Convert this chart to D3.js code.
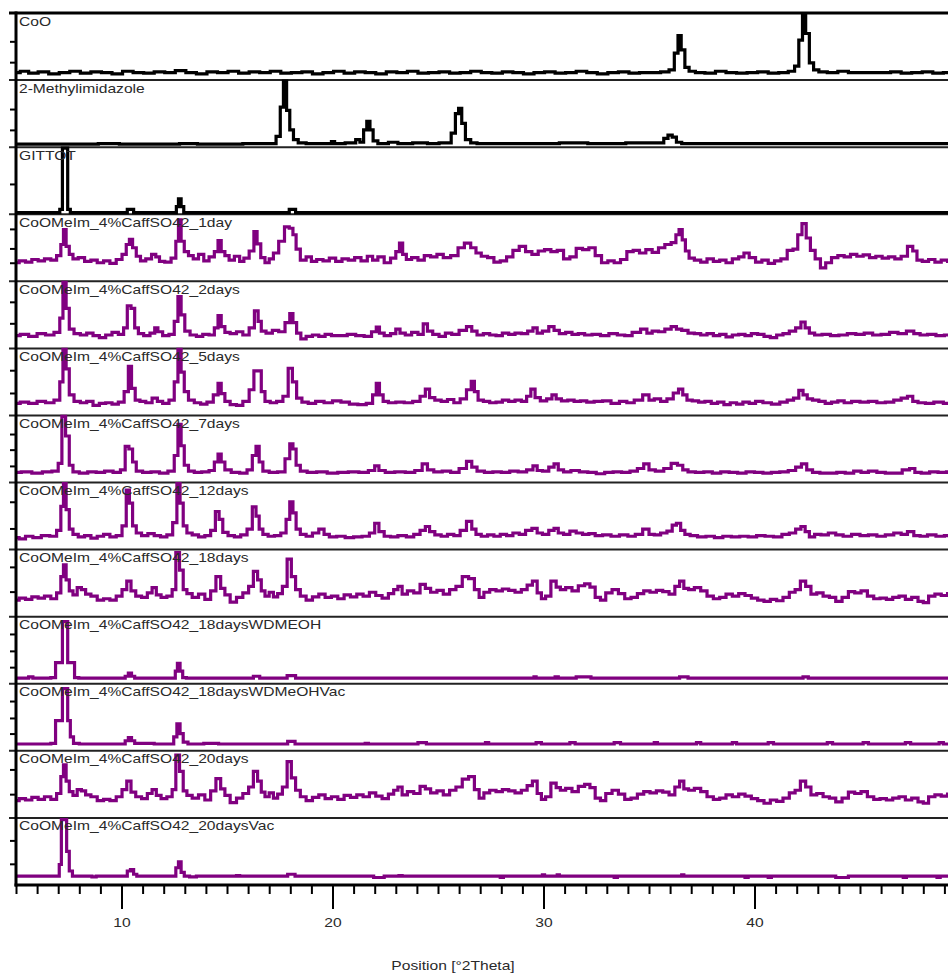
<!DOCTYPE html>
<html>
<head>
<meta charset="utf-8">
<script src="https://cdn.jsdelivr.net/npm/d3@7.9.0/dist/d3.min.js"></script>
<style>
  body { margin: 0; background: #fff; }
  svg { display: block; font-family: "Liberation Sans", Arial, sans-serif; }
</style>
</head>
<body>
<svg id="chart"></svg>
<script>
// Intensities are in % of each panel's height, positions in degrees 2-theta
const patternNames = [
  "CoO", "2-Methylimidazole", "GITTOT",
  "CoOMeIm_4%CaffSO42_1day", "CoOMeIm_4%CaffSO42_2days", "CoOMeIm_4%CaffSO42_5days",
  "CoOMeIm_4%CaffSO42_7days", "CoOMeIm_4%CaffSO42_12days", "CoOMeIm_4%CaffSO42_18days",
  "CoOMeIm_4%CaffSO42_18daysWDMEOH", "CoOMeIm_4%CaffSO42_18daysWDMeOHVac",
  "CoOMeIm_4%CaffSO42_20days", "CoOMeIm_4%CaffSO42_20daysVac"
];
const xTicksMajor = [10, 20, 30, 40];
const xTicksMinor = d3.range(5, 51);
const leftTicks = [
  [26, 58], [25, 57], [45], [27, 49, 79], [37, 70], [33, 68], [24, 49, 73],
  [31, 72], [37, 75], [24, 49, 75], [25, 49, 75], [35, 73], [31, 67]
];

const coo = [[5,10],[5.4,12],[5.8,9],[6.3,11],[6.8,8],[7.3,10],[7.8,12],[8.3,9],[8.8,11],[9.3,10],[9.8,8],[10.3,12],[10.8,10],[11.3,9],[11.8,11],[12.3,10],[12.8,13],[13.3,10],[13.8,8],[14.3,11],[14.8,10],[15.3,12],[15.8,9],[16.3,11],[16.8,10],[17.3,12],[17.8,9],[18.3,10],[18.8,11],[19.3,8],[19.8,10],[20.3,12],[20.8,9],[21.3,11],[21.8,10],[22.3,8],[22.8,11],[23.3,10],[23.8,12],[24.3,9],[24.8,10],[25.3,11],[25.8,9],[26.3,10],[26.8,12],[27.3,10],[27.8,9],[28.3,11],[28.8,10],[29.3,8],[29.8,10],[30.3,11],[30.8,9],[31.3,10],[31.8,12],[32.3,10],[32.8,8],[33.3,10],[33.8,11],[34.3,9],[34.8,10],[35.3,10],[35.8,11],[36.1,14],[36.3,40],[36.45,67],[36.6,45],[36.8,18],[37.0,12],[37.4,10],[37.9,9],[38.4,12],[38.9,10],[39.4,9],[39.9,10],[40.4,11],[40.9,9],[41.4,10],[41.8,12],[42.0,20],[42.2,60],[42.35,100],[42.5,70],[42.7,25],[42.9,14],[43.2,11],[43.7,10],[44.2,12],[44.7,10],[45.2,10],[45.7,10],[46.2,10],[46.7,11],[47.2,9],[47.7,10],[48.2,11],[48.7,9],[49.2,10],[50,10]];

const methylImidazole = [[5,3],[8,3],[9.8,4],[10,3],[12,3],[13.5,4],[13.7,3],[15.5,3],[16,4],[17.2,4],[17.45,15],[17.6,60],[17.75,100],[17.9,55],[18.05,25],[18.25,10],[18.5,5],[19,4],[19.9,4],[20.0,7],[20.2,4],[21.0,5],[21.2,10],[21.4,6],[21.55,25],[21.7,38],[21.85,25],[22.0,8],[22.3,4],[23.0,6],[23.2,4],[24.4,5],[24.6,4],[25.5,5],[25.75,20],[25.9,50],[26.05,58],[26.2,35],[26.4,10],[26.7,5],[27,4],[29.5,4],[32,5],[32.2,4],[35.6,5],[35.8,12],[36.0,17],[36.2,14],[36.4,6],[36.7,4],[50,4]];

const gittot = [[5,1],[7.0,1],[7.15,6],[7.25,100],[7.4,100],[7.5,6],[7.65,1],[10.2,1],[10.35,6],[10.5,6],[10.65,1],[12.55,1],[12.65,10],[12.75,22],[12.9,10],[13.0,1],[17.9,1],[18.0,6],[18.2,6],[18.3,1],[50,1]];

const day1 = [[5,27],[5.3,30],[5.6,28],[5.9,32],[6.2,30],[6.5,33],[6.8,31],[7.05,38],[7.2,55],[7.3,78],[7.45,52],[7.6,40],[7.8,33],[8.1,35],[8.4,29],[8.7,31],[9.0,27],[9.3,30],[9.6,26],[9.9,32],[10.15,40],[10.3,55],[10.45,63],[10.6,50],[10.8,37],[11.0,30],[11.3,33],[11.55,40],[11.7,36],[11.9,29],[12.2,28],[12.5,34],[12.65,60],[12.75,93],[12.9,60],[13.05,44],[13.3,38],[13.5,33],[13.8,40],[14.0,30],[14.3,36],[14.5,44],[14.65,61],[14.8,44],[15.0,38],[15.2,31],[15.5,37],[15.7,29],[15.9,34],[16.2,45],[16.35,75],[16.5,56],[16.7,35],[16.9,27],[17.1,33],[17.3,42],[17.6,60],[17.85,82],[18.05,80],[18.2,70],[18.35,48],[18.6,31],[18.9,36],[19.1,29],[19.4,32],[19.7,30],[20.0,34],[20.3,29],[20.6,33],[20.9,31],[21.2,35],[21.5,30],[21.8,37],[22.0,31],[22.3,36],[22.6,27],[22.9,34],[23.1,44],[23.25,57],[23.4,40],[23.6,32],[23.9,35],[24.2,31],[24.5,38],[24.8,36],[25.1,40],[25.4,35],[25.8,38],[26.1,50],[26.4,57],[26.7,50],[26.9,42],[27.2,37],[27.5,35],[27.8,28],[28.1,30],[28.4,36],[28.7,46],[29.0,52],[29.3,44],[29.6,40],[29.9,45],[30.2,47],[30.5,44],[30.8,46],[31.1,33],[31.4,36],[31.7,49],[32.0,47],[32.3,50],[32.6,38],[32.9,27],[33.2,30],[33.5,27],[33.8,32],[34.1,44],[34.4,46],[34.7,42],[35.0,47],[35.3,43],[35.6,50],[35.9,55],[36.2,58],[36.35,70],[36.5,78],[36.65,62],[36.8,45],[37.0,34],[37.3,31],[37.6,28],[37.9,33],[38.2,29],[38.5,31],[38.8,27],[39.1,33],[39.4,36],[39.6,42],[39.9,35],[40.2,28],[40.5,31],[40.8,26],[41.1,30],[41.4,33],[41.7,46],[41.95,48],[42.15,70],[42.35,87],[42.55,65],[42.75,46],[43.0,33],[43.25,19],[43.5,27],[43.8,35],[44.1,38],[44.4,36],[44.7,40],[45.0,37],[45.3,39],[45.6,35],[45.9,37],[46.2,34],[46.5,36],[46.8,33],[47.1,37],[47.4,52],[47.6,45],[47.8,31],[48.1,29],[48.4,32],[48.7,28],[49.0,31],[49.3,29],[50,30]];

const days2 = [[5,18],[5.4,20],[5.8,17],[6.2,21],[6.6,19],[7.0,23],[7.15,45],[7.3,100],[7.45,60],[7.6,28],[7.9,21],[8.2,19],[8.5,22],[8.8,18],[9.1,15],[9.4,19],[9.7,23],[10.0,20],[10.2,30],[10.35,64],[10.55,60],[10.7,30],[10.9,21],[11.2,18],[11.5,22],[11.65,30],[11.8,24],[12.1,18],[12.4,20],[12.6,40],[12.75,78],[12.9,50],[13.1,25],[13.4,19],[13.7,17],[14.0,20],[14.3,19],[14.5,30],[14.65,49],[14.8,32],[15.0,23],[15.3,21],[15.6,24],[15.9,19],[16.2,30],[16.4,56],[16.55,40],[16.7,25],[17.0,22],[17.3,26],[17.6,24],[17.9,38],[18.05,52],[18.2,38],[18.4,22],[18.6,13],[18.9,17],[19.2,19],[19.5,17],[19.8,20],[20.1,18],[20.5,18],[20.9,20],[21.3,18],[21.7,17],[22.0,24],[22.15,31],[22.3,22],[22.6,18],[22.9,21],[23.1,28],[23.3,22],[23.6,19],[23.9,23],[24.2,20],[24.4,36],[24.6,25],[24.9,20],[25.2,17],[25.5,22],[25.8,20],[26.2,26],[26.5,32],[26.7,25],[27.0,19],[27.3,21],[27.6,19],[27.9,18],[28.2,22],[28.5,20],[28.8,22],[29.1,21],[29.4,25],[29.6,30],[29.8,22],[30.1,25],[30.4,32],[30.6,26],[30.9,21],[31.2,23],[31.5,20],[31.8,21],[32.1,19],[32.5,20],[32.9,18],[33.3,21],[33.7,19],[34.0,18],[34.4,23],[34.8,28],[35.0,22],[35.3,25],[35.6,24],[35.9,28],[36.2,32],[36.4,28],[36.7,26],[37.0,22],[37.3,21],[37.6,19],[37.9,21],[38.2,18],[38.5,20],[38.8,16],[39.1,19],[39.4,20],[39.7,18],[40.0,21],[40.3,20],[40.6,17],[40.9,15],[41.2,19],[41.5,21],[41.8,25],[42.1,30],[42.3,39],[42.5,30],[42.7,22],[43.0,19],[43.4,20],[43.8,18],[44.2,19],[44.6,21],[45.0,20],[45.4,22],[45.8,19],[46.2,20],[46.6,23],[47.0,21],[47.4,25],[47.7,21],[48.0,19],[48.4,20],[48.8,18],[49.2,19],[50,19]];

const days5 = [[5,17],[5.4,19],[5.8,17],[6.2,20],[6.6,18],[7.0,22],[7.15,50],[7.3,100],[7.45,70],[7.6,30],[7.9,20],[8.2,18],[8.5,20],[8.8,14],[9.1,17],[9.4,18],[9.7,16],[10.0,19],[10.25,35],[10.4,74],[10.55,40],[10.75,22],[11.0,20],[11.3,18],[11.6,25],[11.8,20],[12.1,17],[12.4,22],[12.6,50],[12.75,100],[12.9,65],[13.05,35],[13.3,22],[13.6,18],[13.9,16],[14.2,19],[14.5,30],[14.65,48],[14.8,32],[15.0,20],[15.3,15],[15.6,14],[15.9,20],[16.2,38],[16.35,67],[16.55,67],[16.7,35],[16.9,20],[17.2,18],[17.5,20],[17.8,28],[18.0,71],[18.2,50],[18.4,25],[18.7,19],[19.0,17],[19.4,20],[19.8,18],[20.2,21],[20.6,19],[21.0,16],[21.4,15],[21.8,17],[22.0,30],[22.15,48],[22.3,30],[22.5,20],[22.8,18],[23.2,19],[23.6,18],[24.0,20],[24.3,28],[24.5,39],[24.7,26],[25.0,22],[25.3,20],[25.6,23],[25.9,18],[26.2,24],[26.5,38],[26.65,51],[26.8,35],[27.0,22],[27.3,20],[27.6,18],[27.9,19],[28.2,22],[28.5,20],[28.8,22],[29.1,20],[29.3,28],[29.5,39],[29.7,26],[30.0,21],[30.3,24],[30.5,30],[30.7,24],[31.0,21],[31.3,22],[31.6,20],[31.9,21],[32.2,19],[32.6,20],[33.0,21],[33.4,17],[33.8,20],[34.1,18],[34.5,22],[34.9,30],[35.1,22],[35.4,24],[35.7,20],[36.0,24],[36.3,33],[36.5,39],[36.7,30],[36.9,22],[37.2,21],[37.5,19],[37.8,20],[38.1,17],[38.4,19],[38.7,15],[39.0,18],[39.3,16],[39.6,19],[39.9,17],[40.2,20],[40.6,18],[41.0,16],[41.4,19],[41.7,22],[42.0,25],[42.2,37],[42.4,30],[42.6,24],[42.9,22],[43.2,20],[43.5,17],[43.8,19],[44.1,21],[44.4,18],[44.8,20],[45.2,19],[45.6,20],[46.0,18],[46.4,19],[46.8,22],[47.1,25],[47.4,28],[47.6,20],[47.9,18],[48.3,17],[48.7,19],[49.2,17],[50,18]];

const days7 = [[5,14],[5.5,15],[6.0,13],[6.5,15],[6.9,16],[7.1,28],[7.25,100],[7.45,70],[7.6,25],[7.8,15],[8.2,13],[8.6,15],[9.0,14],[9.4,16],[9.8,14],[10.1,18],[10.25,54],[10.45,50],[10.6,30],[10.8,16],[11.2,14],[11.6,15],[12.0,13],[12.4,16],[12.6,40],[12.75,88],[12.9,55],[13.05,25],[13.3,16],[13.6,14],[14.0,15],[14.3,17],[14.5,30],[14.65,42],[14.8,30],[15.0,18],[15.4,14],[15.8,13],[16.1,18],[16.3,40],[16.45,54],[16.6,30],[16.8,16],[17.2,14],[17.6,15],[17.9,35],[18.05,58],[18.2,50],[18.35,25],[18.6,16],[19.0,14],[19.5,15],[20.0,13],[20.5,14],[21.0,15],[21.5,14],[21.9,17],[22.1,24],[22.3,17],[22.7,14],[23.2,15],[23.7,14],[24.1,17],[24.4,27],[24.6,18],[25.0,15],[25.4,16],[25.8,14],[26.2,20],[26.5,31],[26.7,22],[27.0,16],[27.4,14],[27.8,15],[28.2,14],[28.6,16],[29.0,15],[29.4,18],[29.6,24],[29.8,17],[30.1,16],[30.4,22],[30.6,27],[30.8,18],[31.1,15],[31.5,17],[31.9,15],[32.3,14],[32.7,12],[33.1,14],[33.5,15],[33.9,14],[34.3,16],[34.6,20],[34.9,27],[35.1,18],[35.5,16],[35.9,20],[36.2,28],[36.5,25],[36.7,18],[37.0,15],[37.4,14],[37.8,15],[38.2,13],[38.6,15],[39.0,14],[39.4,13],[39.8,15],[40.2,14],[40.6,13],[41.0,14],[41.4,15],[41.8,17],[42.1,22],[42.35,27],[42.6,18],[42.9,14],[43.3,13],[43.7,13],[44.1,14],[44.5,13],[44.9,16],[45.2,14],[45.6,16],[46.0,14],[46.4,13],[46.8,13],[47.2,18],[47.5,20],[47.7,14],[48.1,13],[48.5,15],[48.9,14],[49.3,15],[50,14]];

const days12 = [[5,17],[5.3,15],[5.6,19],[6.0,17],[6.4,20],[6.8,19],[7.05,28],[7.2,65],[7.3,100],[7.45,60],[7.6,30],[7.8,22],[8.1,18],[8.4,20],[8.7,16],[9.0,19],[9.3,22],[9.6,18],[9.9,20],[10.15,35],[10.3,90],[10.45,70],[10.6,35],[10.8,24],[11.1,20],[11.4,23],[11.7,20],[12.0,18],[12.3,21],[12.55,40],[12.7,100],[12.85,70],[13.0,35],[13.2,24],[13.5,21],[13.8,18],[14.1,20],[14.35,28],[14.55,57],[14.7,45],[14.9,25],[15.2,20],[15.5,18],[15.8,21],[16.1,30],[16.3,64],[16.45,50],[16.6,30],[16.8,22],[17.1,19],[17.4,20],[17.7,24],[17.9,45],[18.05,72],[18.2,55],[18.35,30],[18.6,22],[18.9,19],[19.2,24],[19.5,30],[19.7,22],[20.0,18],[20.4,19],[20.8,17],[21.2,18],[21.6,19],[21.9,24],[22.1,39],[22.3,26],[22.6,19],[22.9,18],[23.3,20],[23.7,18],[24.0,22],[24.3,28],[24.5,34],[24.7,26],[25.0,21],[25.3,19],[25.6,22],[25.9,20],[26.2,28],[26.5,42],[26.7,30],[26.9,22],[27.2,19],[27.5,21],[27.8,19],[28.1,22],[28.4,20],[28.7,24],[29.0,22],[29.3,28],[29.6,31],[29.8,24],[30.1,22],[30.4,28],[30.6,31],[30.8,24],[31.1,22],[31.4,27],[31.7,24],[32.0,22],[32.3,23],[32.6,20],[33.0,21],[33.4,19],[33.8,21],[34.2,19],[34.5,22],[34.9,30],[35.1,22],[35.4,21],[35.7,24],[36.0,27],[36.2,36],[36.4,39],[36.6,28],[36.8,22],[37.1,20],[37.5,18],[37.9,19],[38.3,17],[38.7,19],[39.1,18],[39.5,19],[39.9,18],[40.3,20],[40.7,19],[41.1,18],[41.5,22],[41.8,24],[42.1,30],[42.3,34],[42.5,26],[42.7,18],[43.0,22],[43.3,21],[43.7,24],[44.0,21],[44.4,19],[44.8,22],[45.2,20],[45.6,21],[46.0,19],[46.4,21],[46.8,24],[47.1,22],[47.4,26],[47.7,20],[48.0,19],[48.4,21],[48.8,19],[49.2,20],[50,19]];

const days18 = [[5,24],[5.3,27],[5.6,25],[5.9,29],[6.2,27],[6.5,30],[6.8,26],[7.05,35],[7.2,60],[7.3,78],[7.45,55],[7.6,38],[7.8,32],[8.0,43],[8.2,40],[8.4,33],[8.7,30],[9.0,24],[9.3,26],[9.6,24],[9.9,30],[10.15,40],[10.35,53],[10.55,38],[10.8,30],[11.1,28],[11.35,35],[11.55,43],[11.75,32],[12.0,28],[12.3,30],[12.5,40],[12.65,97],[12.85,70],[13.0,40],[13.2,34],[13.5,28],[13.8,33],[14.1,25],[14.35,38],[14.6,60],[14.8,42],[15.0,32],[15.3,21],[15.6,28],[15.9,35],[16.15,45],[16.35,68],[16.55,55],[16.7,38],[16.9,30],[17.1,36],[17.3,29],[17.5,34],[17.75,45],[17.95,87],[18.15,60],[18.35,40],[18.6,30],[18.9,24],[19.2,29],[19.5,33],[19.8,28],[20.1,30],[20.4,26],[20.7,32],[21.0,29],[21.3,33],[21.6,30],[21.9,36],[22.2,31],[22.5,27],[22.8,34],[23.0,40],[23.2,45],[23.4,33],[23.7,38],[24.0,35],[24.3,48],[24.5,42],[24.8,36],[25.1,39],[25.4,33],[25.7,40],[26.0,45],[26.3,60],[26.6,57],[26.85,40],[27.05,28],[27.3,36],[27.6,40],[27.9,38],[28.2,41],[28.5,39],[28.8,36],[29.1,40],[29.35,47],[29.6,53],[29.8,35],[30.0,26],[30.2,30],[30.5,53],[30.7,44],[30.9,40],[31.2,43],[31.5,38],[31.8,46],[32.1,49],[32.3,44],[32.6,28],[32.8,24],[33.1,35],[33.4,40],[33.7,34],[34.0,26],[34.3,28],[34.6,34],[34.9,38],[35.2,36],[35.5,39],[35.8,37],[36.1,33],[36.35,45],[36.55,53],[36.75,42],[37.0,40],[37.3,43],[37.6,38],[37.9,30],[38.2,26],[38.5,28],[38.8,33],[39.1,30],[39.4,34],[39.7,31],[40.0,27],[40.3,24],[40.6,22],[40.9,25],[41.2,23],[41.5,28],[41.8,36],[42.05,40],[42.3,53],[42.55,45],[42.8,33],[43.1,35],[43.4,30],[43.7,28],[44.0,22],[44.3,28],[44.6,37],[44.9,35],[45.2,38],[45.5,30],[45.8,26],[46.1,27],[46.4,25],[46.7,28],[47.0,30],[47.3,25],[47.6,28],[47.9,22],[48.1,20],[48.4,30],[48.7,33],[49.0,31],[49.3,34],[50,32]];

const days18WDMeOH = [[5,7],[5.5,7],[5.7,9],[5.9,7],[6.5,7],[6.8,8],[6.95,31],[7.15,31],[7.25,94],[7.4,94],[7.5,31],[7.7,31],[7.85,8],[8.1,7],[10.1,7],[10.25,10],[10.4,15],[10.55,10],[10.7,7],[12.5,7],[12.6,18],[12.7,30],[12.85,18],[12.95,8],[13.2,7],[16.2,7],[16.3,10],[16.5,10],[16.6,7],[17.8,7],[17.9,11],[18.2,11],[18.3,7],[29.5,7],[29.6,9],[29.7,7],[30.5,7],[30.6,9],[30.8,7],[31.5,7],[31.6,9],[32.2,9],[32.3,7],[36.4,7],[36.5,9],[36.8,9],[36.9,7],[42.25,7],[42.35,9],[42.5,9],[42.6,7],[50,7]];

const days18WDMeOHVac = [[5,9],[6.5,9],[6.8,10],[6.95,45],[7.15,45],[7.25,94],[7.4,94],[7.5,45],[7.65,20],[7.8,10],[8.2,9],[10.1,9],[10.25,14],[10.4,19],[10.55,14],[10.7,10],[12.4,9],[12.55,20],[12.7,40],[12.85,25],[13.0,12],[13.3,9],[14.5,10],[14.7,9],[17.8,9],[17.95,13],[18.15,13],[18.3,9],[21.5,9],[21.6,10],[21.8,9],[24.0,9],[24.1,11],[24.4,11],[24.5,9],[27.2,9],[27.3,11],[27.5,9],[29.6,9],[29.7,11],[30.1,9],[31.2,9],[31.3,11],[31.7,9],[33.3,9],[33.4,11],[33.9,9],[35.2,9],[35.3,11],[35.5,9],[37.2,9],[37.3,11],[37.6,9],[38.9,9],[39.0,11],[39.3,9],[40.6,9],[40.7,11],[41.1,9],[43.4,9],[43.5,11],[43.9,9],[45.1,9],[45.2,11],[45.6,9],[47.1,9],[47.2,11],[47.6,9],[48.7,9],[48.8,11],[49.1,9],[50,9]];

const days20 = [[5,25],[5.3,28],[5.6,26],[5.9,30],[6.2,27],[6.5,31],[6.8,27],[7.05,36],[7.2,62],[7.3,80],[7.45,55],[7.6,39],[7.8,33],[8.0,42],[8.2,40],[8.4,34],[8.7,31],[9.0,25],[9.3,27],[9.6,25],[9.9,31],[10.15,42],[10.35,55],[10.55,38],[10.8,31],[11.1,28],[11.35,36],[11.55,42],[11.75,33],[12.0,28],[12.3,31],[12.5,42],[12.65,95],[12.85,70],[13.0,40],[13.2,33],[13.5,29],[13.8,34],[14.1,26],[14.35,40],[14.6,59],[14.8,43],[15.0,33],[15.3,22],[15.6,29],[15.9,36],[16.15,46],[16.35,70],[16.55,55],[16.7,38],[16.9,31],[17.1,37],[17.3,29],[17.5,35],[17.75,46],[17.95,85],[18.15,60],[18.35,41],[18.6,31],[18.9,25],[19.2,30],[19.5,34],[19.8,28],[20.1,31],[20.4,27],[20.7,33],[21.0,30],[21.3,34],[21.6,31],[21.9,37],[22.2,32],[22.5,28],[22.8,35],[23.0,41],[23.2,46],[23.4,34],[23.7,39],[24.0,36],[24.3,47],[24.5,43],[24.8,37],[25.1,40],[25.4,34],[25.7,41],[26.0,46],[26.3,58],[26.6,62],[26.85,42],[27.05,29],[27.3,37],[27.6,41],[27.9,39],[28.2,42],[28.5,40],[28.8,37],[29.1,41],[29.35,48],[29.6,55],[29.8,36],[30.0,27],[30.2,31],[30.5,52],[30.7,45],[30.9,41],[31.2,44],[31.5,39],[31.8,47],[32.1,50],[32.3,45],[32.6,29],[32.8,25],[33.1,36],[33.4,41],[33.7,35],[34.0,27],[34.3,29],[34.6,35],[34.9,39],[35.2,37],[35.5,40],[35.8,38],[36.1,34],[36.35,46],[36.55,55],[36.75,43],[37.0,41],[37.3,44],[37.6,39],[37.9,31],[38.2,27],[38.5,29],[38.8,34],[39.1,31],[39.4,35],[39.7,32],[40.0,28],[40.3,25],[40.6,21],[40.9,26],[41.2,24],[41.5,29],[41.8,37],[42.05,41],[42.3,55],[42.55,46],[42.8,34],[43.1,36],[43.4,31],[43.7,29],[44.0,23],[44.3,29],[44.6,38],[44.9,36],[45.2,39],[45.5,31],[45.8,27],[46.1,28],[46.4,26],[46.7,29],[47.0,31],[47.3,26],[47.6,29],[47.9,23],[48.1,21],[48.4,31],[48.7,34],[49.0,32],[49.3,35],[50,33]];

const days20Vac = [[5,12],[7.0,12],[7.1,30],[7.2,99],[7.35,99],[7.45,50],[7.6,20],[7.75,12],[8.5,12],[8.7,11],[8.9,12],[10.2,12],[10.35,20],[10.5,22],[10.65,15],[10.8,12],[12.5,12],[12.65,25],[12.75,34],[12.9,18],[13.05,12],[13.4,11],[13.7,12],[15.4,12],[15.5,13],[15.7,12],[17.8,12],[17.95,15],[18.15,15],[18.3,12],[21.9,12],[22.0,10],[22.4,10],[22.5,12],[23.1,12],[23.2,13],[23.4,12],[27.9,12],[28.0,10],[28.2,12],[29.9,12],[30.0,14],[30.1,12],[30.6,12],[30.7,14],[30.8,12],[33.3,12],[33.4,10],[33.6,12],[36.5,12],[36.6,14],[36.7,12],[39.5,12],[39.6,10],[39.8,12],[40.6,12],[40.7,10],[40.9,12],[43.8,12],[43.9,10],[44.4,10],[44.5,12],[47.0,12],[47.1,10],[47.3,12],[48.6,12],[48.7,10],[48.9,12],[50,12]];

const patterns = [coo, methylImidazole, gittot, day1, days2, days5, days7, days12, days18,
  days18WDMeOH, days18WDMeOHVac, days20, days20Vac];
const lineColors = ["#000000", "#000000", "#000000"].concat(d3.range(10).map(() => "#800080"));

const width = 948, height = 978;
const plotTop = 13, plotBottom = 885, plotLeft = 16;

const svg = d3.select("#chart").attr("width", width).attr("height", height);

const x = d3.scaleLinear().domain([5, 50]).range([plotLeft, plotLeft + 45 * 21.1]);
const band = d3.scaleBand().domain(patternNames).range([plotTop, plotBottom]).padding(0);

svg.append("defs").append("clipPath").attr("id", "plotClip")
  .append("rect").attr("x", plotLeft).attr("y", plotTop - 2)
  .attr("width", width - plotLeft).attr("height", plotBottom - plotTop + 2);

const line = d3.line().curve(d3.curveStep);

patternNames.forEach((name, i) => {
  const top = band(name), bottom = top + band.bandwidth();
  const y = d3.scaleLinear().domain([0, 100]).range([bottom - 1, top + 1]);

  // panel bottom divider
  if (i < patternNames.length - 1) {
    svg.append("line")
      .attr("x1", 9).attr("x2", width)
      .attr("y1", bottom).attr("y2", bottom)
      .attr("stroke", "#222").attr("stroke-width", 2);
  }

  // left ticks for this panel
  const yAxis = svg.append("g")
    .attr("transform", "translate(" + plotLeft + ",0)")
    .call(d3.axisLeft(y).tickValues(leftTicks[i]).tickSize(6).tickFormat(""));
  yAxis.select(".domain").remove();
  yAxis.selectAll("line").attr("stroke", "#000").attr("stroke-width", 2);

  svg.append("path")
    .datum(patterns[i])
    .attr("clip-path", "url(#plotClip)")
    .attr("fill", "none")
    .attr("stroke", lineColors[i])
    .attr("stroke-width", 3.2)
    .attr("stroke-linejoin", "miter")
    .attr("d", line.x(d => x(d[0])).y(d => y(d[1])));

  svg.append("text")
    .attr("transform", "translate(19," + (top + 12.5) + ") scale(1.25,1)")
    .attr("fill", "#2a2a2a")
    .style("font-size", "12.5px")
    .text(name);
});

// frame: top line, left axis
svg.append("line")
  .attr("x1", 9).attr("x2", width).attr("y1", plotTop).attr("y2", plotTop)
  .attr("stroke", "#000").attr("stroke-width", 3);
svg.append("line")
  .attr("x1", plotLeft).attr("x2", plotLeft).attr("y1", plotTop - 1.5).attr("y2", plotBottom + 1.5)
  .attr("stroke", "#000").attr("stroke-width", 3);

// bottom axis: minor ticks every degree, major every 10
const minorAxis = svg.append("g")
  .attr("transform", "translate(0," + plotBottom + ")")
  .call(d3.axisBottom(x).tickValues(xTicksMinor).tickSize(9).tickFormat(""));
minorAxis.select(".domain").remove();
minorAxis.selectAll("line").attr("stroke", "#000").attr("stroke-width", 2);

const majorAxis = svg.append("g")
  .attr("transform", "translate(0," + plotBottom + ")")
  .call(d3.axisBottom(x).tickValues(xTicksMajor).tickSize(24).tickPadding(9).tickFormat(d3.format("d")));
majorAxis.select(".domain").remove();
majorAxis.selectAll("line").attr("stroke", "#000").attr("stroke-width", 2);
majorAxis.selectAll("text")
  .attr("fill", "#2a2a2a")
  .style("font-size", "12.5px")
  .style("font-family", "'Liberation Sans', Arial, sans-serif")
  .attr("transform", "scale(1.25,1)");

svg.append("line")
  .attr("x1", plotLeft - 1.5).attr("x2", width).attr("y1", plotBottom).attr("y2", plotBottom)
  .attr("stroke", "#000").attr("stroke-width", 3);

svg.append("text")
  .attr("transform", "translate(453,970) scale(1.25,1)")
  .attr("text-anchor", "middle")
  .attr("fill", "#2a2a2a")
  .style("font-size", "12.5px")
  .text("Position [°2Theta]");
</script>
</body>
</html>
